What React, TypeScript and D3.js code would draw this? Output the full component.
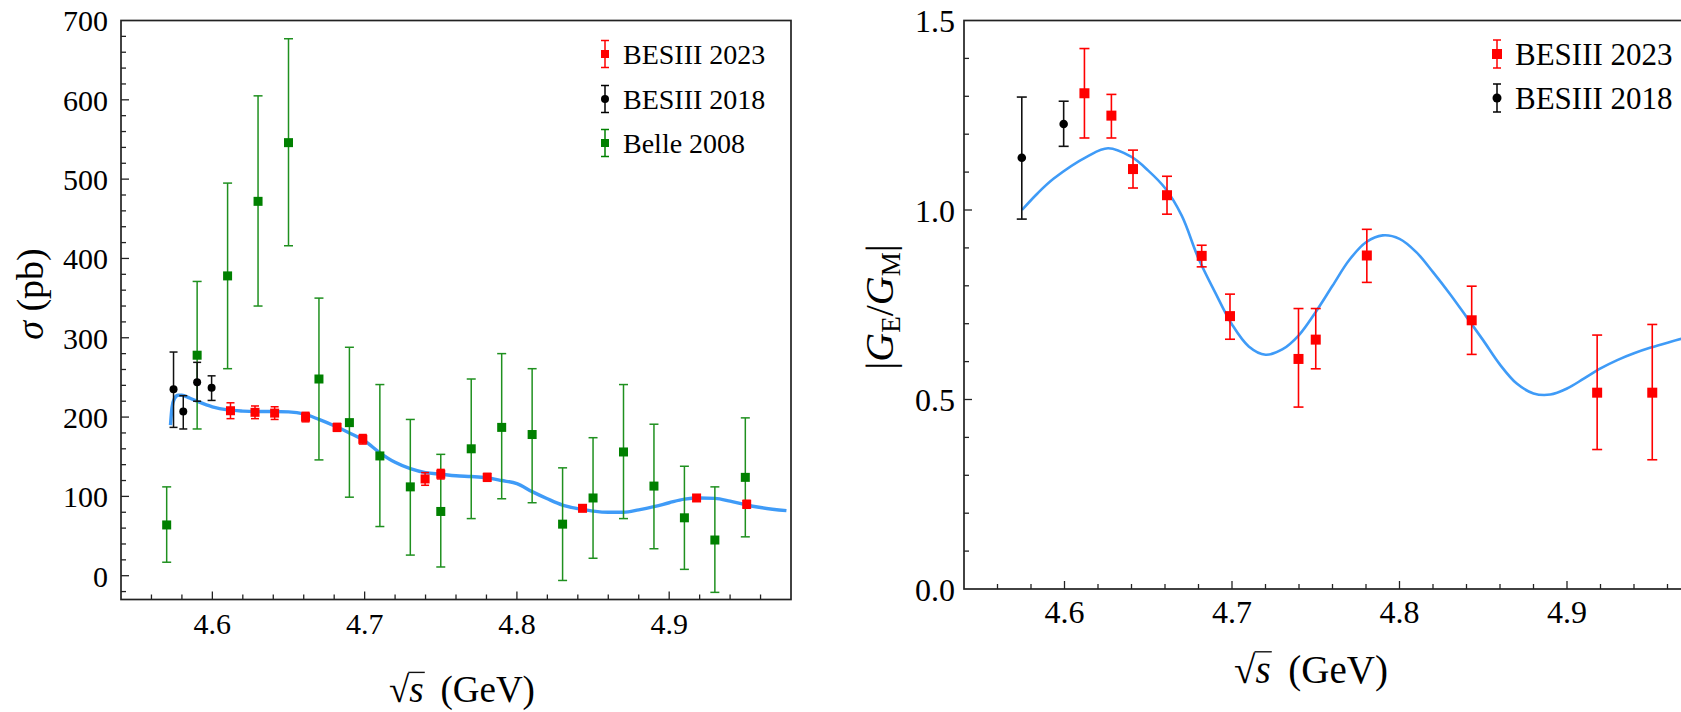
import React, { useEffect, useRef } from 'react';
import * as d3 from 'd3';

// BESIII 2023 energies (GeV), shared by both panels
const energies2023 = [4.6119, 4.628, 4.6409, 4.6612, 4.6819, 4.6988, 4.7397, 4.75, 4.7805, 4.8431, 4.918, 4.9509];
const sigma2023 = [208, 206, 205, 200, 187, 172, 122, 128, 124, 85, 98, 90];
const sigma2023Err = [10, 8, 8, 6, 5, 6, 8, 6, 5, 4, 4, 5];

const energies2018 = [4.5745, 4.5809, 4.59, 4.5995];
const sigma2018 = [235, 207, 244, 237];
const sigma2018Lo = [187, 185, 220, 221];
const sigma2018Hi = [282, 227, 269, 252];

const energiesBelle = [4.57, 4.59, 4.61, 4.63, 4.65, 4.67, 4.69, 4.71, 4.73, 4.75, 4.77, 4.79, 4.81, 4.83, 4.85, 4.87, 4.89, 4.91, 4.93, 4.95];
const sigmaBelle = [64, 278, 378, 472, 546, 248, 193, 151, 112, 81, 160, 187, 178, 65, 98, 156, 113, 73, 45, 124];
const sigmaBelleLo = [17, 185, 261, 340, 416, 146, 99, 62, 26, 11, 72, 97, 92, -6, 22, 72, 34, 8, -21, 49];
const sigmaBelleHi = [112, 371, 495, 605, 677, 350, 288, 241, 197, 153, 248, 280, 261, 136, 174, 241, 191, 138, 112, 199];

// fit curve
const fitSigmaE = [4.5725, 4.5735, 4.575, 4.5775, 4.58, 4.585, 4.59, 4.6, 4.61, 4.62, 4.63, 4.64, 4.65, 4.66, 4.67, 4.68, 4.69, 4.7, 4.71, 4.72, 4.73, 4.74, 4.75, 4.76, 4.77, 4.78, 4.79, 4.8, 4.81, 4.82, 4.83, 4.84, 4.85, 4.86, 4.87, 4.88, 4.89, 4.9, 4.91, 4.92, 4.93, 4.94, 4.95, 4.96, 4.977];
const fitSigma = [190, 212, 223, 227.5, 227.5, 224, 220, 213, 209, 207.5, 207, 207, 206.5, 204, 197, 189, 180, 170, 155, 143, 135, 130, 128, 126, 125, 123.5, 120, 116, 106, 97, 89, 84.5, 81.5, 80, 80, 83, 87, 92, 96.5, 98, 97.5, 94, 89.5, 86, 82];

// |GE/GM|
const ratio2023 = [1.308, 1.249, 1.108, 1.039, 0.879, 0.72, 0.607, 0.658, 0.88, 0.709, 0.518, 0.518];
const ratio2023Lo = [1.19, 1.19, 1.058, 0.989, 0.85, 0.659, 0.48, 0.581, 0.809, 0.619, 0.368, 0.341];
const ratio2023Hi = [1.426, 1.305, 1.158, 1.089, 0.907, 0.778, 0.74, 0.74, 0.949, 0.799, 0.67, 0.698];

const energiesRatio2018 = [4.5745, 4.5995];
const ratio2018 = [1.138, 1.227];
const ratio2018Lo = [0.976, 1.168];
const ratio2018Hi = [1.298, 1.287];

const fitRatioE = [4.5746, 4.5837, 4.5936, 4.6135, 4.626, 4.64, 4.65, 4.66, 4.67, 4.68, 4.69, 4.7, 4.71, 4.72, 4.73, 4.74, 4.75, 4.76, 4.77, 4.78, 4.79, 4.8, 4.81, 4.82, 4.83, 4.84, 4.85, 4.86, 4.87, 4.88, 4.89, 4.9, 4.91, 4.92, 4.93, 4.94, 4.95, 4.96, 4.97, 4.98];
const fitRatio = [1.0, 1.043, 1.083, 1.141, 1.163, 1.14, 1.104, 1.058, 0.985, 0.872, 0.782, 0.698, 0.64, 0.618, 0.632, 0.67, 0.731, 0.8, 0.868, 0.915, 0.933, 0.924, 0.889, 0.836, 0.779, 0.718, 0.656, 0.592, 0.542, 0.516, 0.513, 0.529, 0.555, 0.582, 0.604, 0.622, 0.637, 0.65, 0.662, 0.672];

const xMajor = [4.6, 4.7, 4.8, 4.9];
const sigmaMajor = [0, 100, 200, 300, 400, 500, 600, 700];
const ratioMajor = [0.0, 0.5, 1.0, 1.5];

const SERIF = "'Liberation Serif', 'DejaVu Serif', serif";
const RED = '#ff0000';
const GREEN = '#008000';
const GREEN_BAR = '#1f901f';
const BLUE = '#3f9bf7';

const App = () => {
  const ref = useRef(null);

  useEffect(() => {
    const svg = d3.select(ref.current);
    svg.selectAll('*').remove();

    const drawAxes = (g, x, y, p) => {
      const [x0, x1] = x.range();
      const [y1, y0] = y.range();
      // minor + major ticks, pointing inwards
      d3.range(4.56, 4.975, 0.02).forEach((v) => {
        const major = xMajor.some((m) => Math.abs(m - v) < 1e-6);
        g.append('line')
          .attr('x1', x(v)).attr('x2', x(v))
          .attr('y1', y1).attr('y2', y1 - (major ? 8 : 5))
          .attr('stroke', '#222').attr('stroke-width', 1.3);
      });
      d3.range(p.yMinorStart, p.yMax, p.yMinorStep).forEach((v) => {
        const major = p.yMajor.some((m) => Math.abs(m - v) < 1e-6);
        g.append('line')
          .attr('x1', x0).attr('x2', x0 + (major ? 8 : 5))
          .attr('y1', y(v)).attr('y2', y(v))
          .attr('stroke', '#222').attr('stroke-width', 1.3);
      });
      g.append('rect')
        .attr('x', x0).attr('y', y0)
        .attr('width', x1 - x0).attr('height', y1 - y0)
        .attr('fill', 'none').attr('stroke', '#222').attr('stroke-width', 1.7);

      g.selectAll('.xt')
        .data(xMajor)
        .join('text')
        .attr('x', (d) => x(d))
        .attr('y', y1 + p.xTickDy)
        .attr('text-anchor', 'middle')
        .attr('font-family', SERIF)
        .attr('font-size', p.tickFont)
        .text((d) => d.toFixed(1));

      g.selectAll('.yt')
        .data(p.yMajor)
        .join('text')
        .attr('x', x0 - p.yTickGap)
        .attr('y', (d) => y(d))
        .attr('dy', '0.36em')
        .attr('text-anchor', 'end')
        .attr('font-family', SERIF)
        .attr('font-size', p.tickFont)
        .text(p.yFmt);

      // x label: sqrt(s) (GeV)
      const t = g.append('text')
        .attr('x', p.xLabelX).attr('y', p.xLabelY)
        .attr('text-anchor', 'middle')
        .attr('font-family', SERIF)
        .attr('font-size', p.xLabelFont);
      t.append('tspan').text('\u221A');
      t.append('tspan').attr('font-style', 'italic').text('s');
      t.append('tspan').text('\u2009 (GeV)');
      try {
        const node = t.node();
        const a = node.getEndPositionOfChar(0);
        const b = node.getEndPositionOfChar(1);
        g.append('line')
          .attr('x1', a.x - 1).attr('x2', b.x + 1)
          .attr('y1', p.xLabelY - p.xLabelFont * 0.8)
          .attr('y2', p.xLabelY - p.xLabelFont * 0.8)
          .attr('stroke', '#111').attr('stroke-width', 1.4);
      } catch (e) {
        // ignore
      }
    };

    const drawBars = (g, x, y, xs, lo, hi, color, cap, w) => {
      xs.forEach((v, i) => {
        g.append('line')
          .attr('x1', x(v)).attr('x2', x(v))
          .attr('y1', y(lo[i])).attr('y2', y(hi[i]))
          .attr('stroke', color).attr('stroke-width', w);
        [lo[i], hi[i]].forEach((e) => {
          g.append('line')
            .attr('x1', x(v) - cap / 2).attr('x2', x(v) + cap / 2)
            .attr('y1', y(e)).attr('y2', y(e))
            .attr('stroke', color).attr('stroke-width', w);
        });
      });
    };

    const drawSquares = (g, x, y, xs, ys, color, s) => {
      g.selectAll(null)
        .data(xs)
        .join('rect')
        .attr('x', (d) => x(d) - s / 2)
        .attr('y', (d, i) => y(ys[i]) - s / 2)
        .attr('width', s).attr('height', s)
        .attr('fill', color);
    };

    const drawDots = (g, x, y, xs, ys, r) => {
      g.selectAll(null)
        .data(xs)
        .join('circle')
        .attr('cx', (d) => x(d))
        .attr('cy', (d, i) => y(ys[i]))
        .attr('r', r)
        .attr('fill', '#000');
    };

    const legendEntry = (g, lx, ly, kind, color, label, fs, half, size) => {
      g.append('line').attr('x1', lx).attr('x2', lx).attr('y1', ly - half).attr('y2', ly + half)
        .attr('stroke', color).attr('stroke-width', 1.5);
      [ly - half, ly + half].forEach((e) => {
        g.append('line').attr('x1', lx - 4).attr('x2', lx + 4).attr('y1', e).attr('y2', e)
          .attr('stroke', color).attr('stroke-width', 1.5);
      });
      if (kind === 'square') {
        g.append('rect').attr('x', lx - size / 2).attr('y', ly - size / 2)
          .attr('width', size).attr('height', size).attr('fill', color);
      } else {
        g.append('circle').attr('cx', lx).attr('cy', ly).attr('r', size / 2).attr('fill', color);
      }
      g.append('text').attr('x', lx + 18).attr('y', ly + fs * 0.34)
        .attr('font-family', SERIF).attr('font-size', fs)
        .text(label);
    };

    // ---------- left panel: cross section ----------
    const xL = d3.scaleLinear().domain([4.54, 4.98]).range([121, 791]);
    const yL = d3.scaleLinear().domain([-30, 700]).range([599.5, 20.5]);
    const gL = svg.append('g');

    const lineL = d3.line().x((d) => xL(d[0])).y((d) => yL(d[1])).curve(d3.curveMonotoneX);
    gL.append('path')
      .datum(fitSigmaE.map((e, i) => [e, fitSigma[i]]))
      .attr('d', lineL)
      .attr('fill', 'none').attr('stroke', BLUE).attr('stroke-width', 3.4);

    drawBars(gL, xL, yL, energiesBelle, sigmaBelleLo, sigmaBelleHi, GREEN_BAR, 9, 1.5);
    drawSquares(gL, xL, yL, energiesBelle, sigmaBelle, GREEN, 9);
    drawBars(gL, xL, yL, energies2018, sigma2018Lo, sigma2018Hi, '#111', 8, 1.5);
    drawDots(gL, xL, yL, energies2018, sigma2018, 4);
    drawBars(gL, xL, yL, energies2023,
      sigma2023.map((v, i) => v - sigma2023Err[i]),
      sigma2023.map((v, i) => v + sigma2023Err[i]), RED, 8, 1.5);
    drawSquares(gL, xL, yL, energies2023, sigma2023, RED, 9);

    drawAxes(gL, xL, yL, {
      yMajor: sigmaMajor, yMinorStart: -20, yMax: 700, yMinorStep: 20,
      yFmt: (d) => d, tickFont: 30, xTickDy: 34, yTickGap: 13,
      xLabelX: 462, xLabelY: 702, xLabelFont: 37,
    });

    const yl = gL.append('text')
      .attr('transform', 'translate(43, 294) rotate(-90)')
      .attr('text-anchor', 'middle')
      .attr('font-family', SERIF).attr('font-size', 38);
    yl.append('tspan').attr('font-style', 'italic').text('\u03C3');
    yl.append('tspan').text(' (pb)');

    legendEntry(gL, 605, 54, 'square', RED, 'BESIII 2023', 28, 13.5, 8);
    legendEntry(gL, 605, 99, 'circle', '#000', 'BESIII 2018', 28, 13.5, 8);
    legendEntry(gL, 605, 143, 'square', GREEN, 'Belle 2008', 28, 13.5, 8);

    // ---------- right panel: |GE/GM| ----------
    const xR = d3.scaleLinear().domain([4.54, 4.98]).range([964, 1701]);
    const yR = d3.scaleLinear().domain([0, 1.5]).range([589, 20.5]);
    const gR = svg.append('g');

    const lineR = d3.line().x((d) => xR(d[0])).y((d) => yR(d[1])).curve(d3.curveCatmullRom.alpha(0.5));
    gR.append('path')
      .datum(fitRatioE.map((e, i) => [e, fitRatio[i]]))
      .attr('d', lineR)
      .attr('fill', 'none').attr('stroke', BLUE).attr('stroke-width', 2.6);

    drawBars(gR, xR, yR, energiesRatio2018, ratio2018Lo, ratio2018Hi, '#111', 10, 1.6);
    drawDots(gR, xR, yR, energiesRatio2018, ratio2018, 4.3);
    drawBars(gR, xR, yR, energies2023, ratio2023Lo, ratio2023Hi, RED, 10, 1.6);
    drawSquares(gR, xR, yR, energies2023, ratio2023, RED, 10);

    drawAxes(gR, xR, yR, {
      yMajor: ratioMajor, yMinorStart: 0.1, yMax: 1.5, yMinorStep: 0.1,
      yFmt: (d) => d.toFixed(1), tickFont: 32, xTickDy: 34, yTickGap: 9,
      xLabelX: 1311, xLabelY: 683, xLabelFont: 39,
    });

    const yr = gR.append('text')
      .attr('transform', 'translate(893, 307) rotate(-90)')
      .attr('text-anchor', 'middle')
      .attr('font-family', SERIF).attr('font-size', 40);
    yr.append('tspan').text('|');
    yr.append('tspan').attr('font-style', 'italic').text('G');
    yr.append('tspan').attr('font-size', 27).attr('dy', 7).text('E');
    yr.append('tspan').attr('dy', -7).text('/');
    yr.append('tspan').attr('font-style', 'italic').text('G');
    yr.append('tspan').attr('font-size', 27).attr('dy', 7).text('M');
    yr.append('tspan').attr('dy', -7).text('|');

    legendEntry(gR, 1497, 54, 'square', RED, 'BESIII 2023', 31, 14, 10);
    legendEntry(gR, 1497, 98, 'circle', '#000', 'BESIII 2018', 31, 14, 9);
  }, []);

  return (
    <svg
      ref={ref}
      width={1681}
      height={712}
      style={{ position: 'absolute', left: 0, top: 0, background: '#fff' }}
    />
  );
};

export default App;
